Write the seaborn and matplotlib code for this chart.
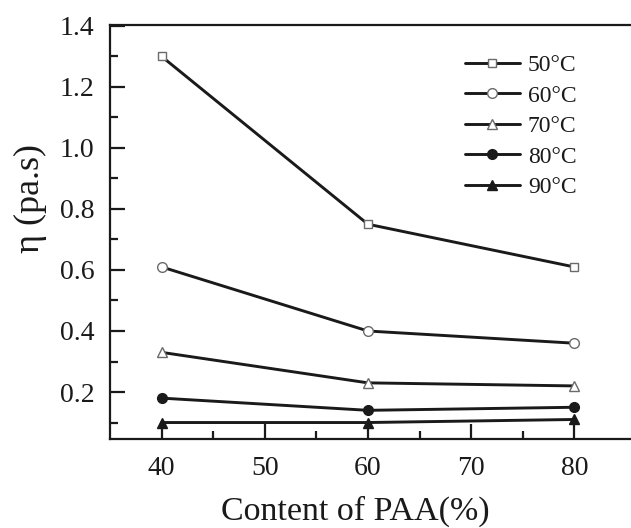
import matplotlib
matplotlib.use("Agg")
import matplotlib.pyplot as plt
from matplotlib.lines import Line2D
from matplotlib.ticker import MultipleLocator, FixedLocator
import pandas as pd
import seaborn as sns

# PAA content (%) and melt viscosity at each temperature
content = [40, 60, 80]
eta_50 = [1.30, 0.75, 0.61]
eta_60 = [0.61, 0.40, 0.36]
eta_70 = [0.33, 0.23, 0.22]
eta_80 = [0.18, 0.14, 0.15]
eta_90 = [0.10, 0.10, 0.11]
temps = ["50°C", "60°C", "70°C", "80°C", "90°C"]
y_ticks = [0.2, 0.4, 0.6, 0.8, 1.0, 1.2, 1.4]
y_ticklabels = ["0.2", "0.4", "0.6", "0.8", "1.0", "1.2", "1.4"]

series = [eta_50, eta_60, eta_70, eta_80, eta_90]
df = pd.DataFrame(
    [(c, v, t) for t, vals in zip(temps, series) for c, v in zip(content, vals)],
    columns=["content", "eta", "temp"],
)

sns.set_theme(style="ticks")
plt.rcParams["font.family"] = ["Liberation Serif", "DejaVu Serif"]

W, H = 631, 528
fig = plt.figure(figsize=(W / 100, H / 100), dpi=100)
ax = fig.add_axes([110 / W, (H - 439) / H, 521 / W, (439 - 25) / H])

ink = "#1a1a1a"
open_col = "#6a6a6a"
styles = {
    "50°C": dict(marker="s", ms=6, mfc="white", mec=open_col, mew=1.0),
    "60°C": dict(marker="o", ms=7, mfc="white", mec=open_col, mew=1.0),
    "70°C": dict(marker="^", ms=7, mfc="white", mec=open_col, mew=1.0),
    "80°C": dict(marker="o", ms=7, mfc=ink, mec=ink, mew=1.0),
    "90°C": dict(marker="^", ms=7, mfc=ink, mec=ink, mew=1.0),
}

handles = []
for t in temps:
    sub = df[df["temp"] == t]
    sns.lineplot(data=sub, x="content", y="eta", ax=ax, color=ink,
                 lw=2.1, legend=False, **styles[t])
    handles.append(Line2D([], [], color=ink, lw=2.1, **styles[t]))

ax.set_xlim(35, 85.5)
ax.set_ylim(0.046, 1.403)
ax.xaxis.set_major_locator(MultipleLocator(10))
ax.xaxis.set_minor_locator(FixedLocator([45, 55, 65, 75]))
ax.set_yticks(y_ticks)
ax.set_yticklabels(y_ticklabels)
ax.yaxis.set_minor_locator(MultipleLocator(0.1))

ax.spines["right"].set_visible(False)
for s in ax.spines.values():
    s.set_linewidth(1.6)
    s.set_color(ink)
ax.tick_params(which="major", direction="in", length=11, width=1.6,
               labelsize=20, colors=ink)
ax.tick_params(axis="y", which="major", pad=11)
ax.tick_params(axis="x", which="major", pad=12)
ax.tick_params(which="minor", direction="in", length=6, width=1.6, colors=ink)
ax.tick_params(axis="y", which="both", left=True, right=False)
ax.tick_params(axis="x", which="both", bottom=True, top=False)

ax.set_xlabel("Content of PAA(%)", fontsize=24.5, color=ink)
ax.xaxis.set_label_coords(0.470, -0.138)
ax.set_ylabel("η (pa.s)", fontsize=26, color=ink)
ax.yaxis.set_label_coords(-0.121, 0.580)

leg = ax.legend(handles, temps, loc="upper left", bbox_to_anchor=(0.663, 0.951),
                frameon=False, fontsize=17, handlelength=2.33,
                handletextpad=0.34, labelspacing=0.38, numpoints=1,
                borderaxespad=0.0)
for txt in leg.get_texts():
    txt.set_color(ink)

fig.savefig("out.png", dpi=100)
